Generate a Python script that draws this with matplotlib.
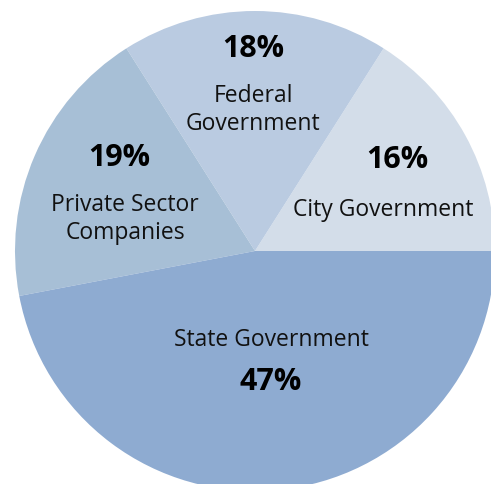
import matplotlib
matplotlib.use("Agg")
import matplotlib.pyplot as plt

categories = ["City Government", "Federal\nGovernment", "Private Sector\nCompanies", "State Government"]
values = [16, 18, 19, 47]
pct_labels = ["16%", "18%", "19%", "47%"]
colors = ["#d3dde9", "#bacbe1", "#a7bfd6", "#8eabd1"]

# layout (pixel coords, y from top): (label x, label y, pct x, pct y)
layout = [
    (383, 210, 397, 160),
    (253, 110, 253, 49),
    (125, 219, 119, 158),
    (271, 340, 271, 382),
]

W, H = 491, 485
fig = plt.figure(figsize=(W / 100, H / 100), dpi=100)
ax = fig.add_axes([0, 0, 1, 1])
cx, cy, r = 255, H - 252, 240
ax.pie(values, colors=colors, startangle=0, counterclock=True,
       radius=r, center=(cx, cy), wedgeprops=dict(linewidth=0))
ax.set_xlim(0, W)
ax.set_ylim(0, H)
ax.set_aspect("equal")
ax.axis("off")

font = "Open Sans"
for cat, pct, (lx, ly, px, py) in zip(categories, pct_labels, layout):
    ax.text(lx, H - ly, cat, ha="center", va="center", fontsize=16.5,
            family=font, color="#111111", linespacing=1.2)
    ax.text(px, H - py, pct, ha="center", va="center", fontsize=22,
            family=font, fontweight="bold", color="#000000")

fig.savefig("out.png", dpi=100)
